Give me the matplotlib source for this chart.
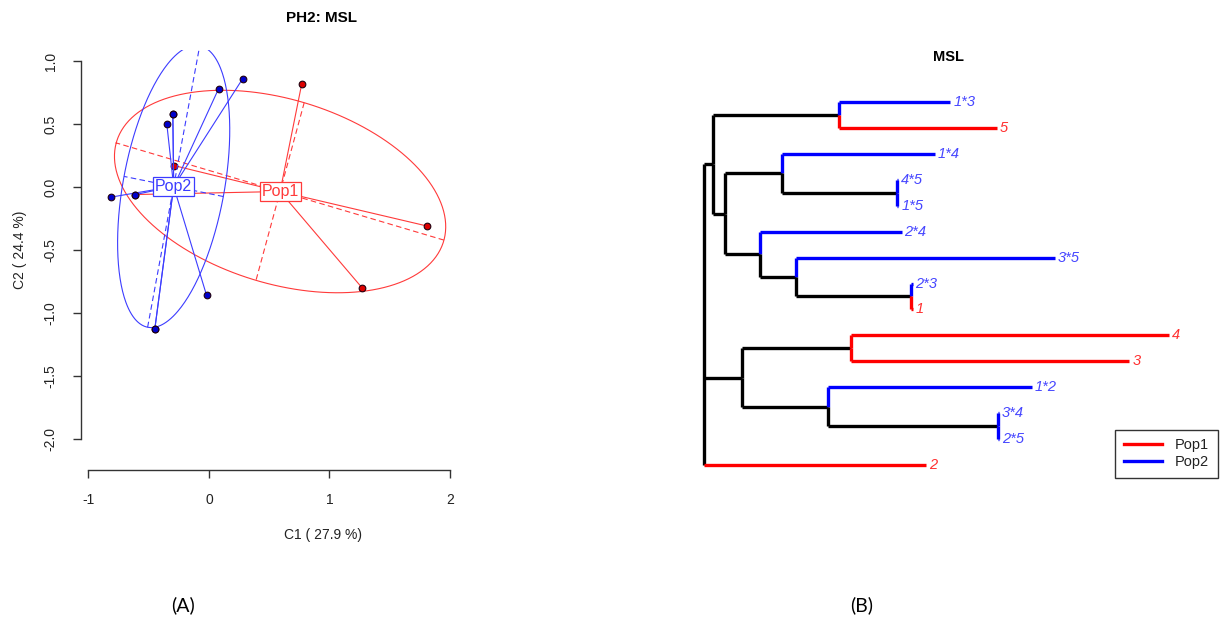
"""PCA class plot and NJ dendrogram for MSL (PH2)."""
import matplotlib
matplotlib.use("Agg")
import matplotlib.pyplot as plt
import numpy as np

plt.rcParams['font.family'] = ['Liberation Sans', 'DejaVu Sans']

# ---- scatter (panel A) data ----
pop1_x = [0.77, 1.81, 1.27, -0.29, -0.61]
pop1_y = [0.82, -0.31, -0.80, 0.17, -0.06]
pop2_x = [-0.81, -0.61, -0.35, -0.30, 0.08, 0.28, -0.02, -0.45, -0.45, -0.30]
pop2_y = [-0.08, -0.06, 0.50, 0.58, 0.78, 0.86, -0.86, -1.13, -1.13, 0.58]
pop_names = ["Pop1", "Pop2"]
x_ticks = [-1, 0, 1, 2]
y_ticks = [-2.0, -1.5, -1.0, -0.5, 0.0, 0.5, 1.0]

# ---- dendrogram (panel B) data ----
children = {
    "root": ["U", "L", "2"],
    "U": ["n1", "V"],
    "n1": ["1*3", "5"],
    "V": ["W", "X"],
    "W": ["1*4", "n2"],
    "n2": ["4*5", "1*5"],
    "X": ["2*4", "Y"],
    "Y": ["3*5", "n3"],
    "n3": ["2*3", "1"],
    "L": ["M", "N"],
    "M": ["4", "3"],
    "N": ["1*2", "n4"],
    "n4": ["3*4", "2*5"],
}
brlen = {
    "U": 0.020, "n1": 0.270, "1*3": 0.240, "5": 0.340,
    "V": 0.026, "W": 0.121, "1*4": 0.329, "n2": 0.248, "4*5": 0.003, "1*5": 0.003,
    "X": 0.074, "2*4": 0.305, "Y": 0.077, "3*5": 0.558, "n3": 0.249, "2*3": 0.003, "1": 0.003,
    "L": 0.082, "M": 0.234, "4": 0.684, "3": 0.599,
    "N": 0.184, "1*2": 0.440, "n4": 0.366, "3*4": 0.003, "2*5": 0.003,
    "2": 0.478,
}
tip_pop = {"1": 0, "2": 0, "3": 0, "4": 0, "5": 0,
           "1*2": 1, "1*3": 1, "1*4": 1, "1*5": 1, "2*3": 1,
           "2*4": 1, "2*5": 1, "3*4": 1, "3*5": 1, "4*5": 1}

edge_cols = ["#ff0000", "#0000ff"]
label_cols = ["#ff3030", "#4646ff"]
line_cols = ["#ff3a3a", "#3c3cff"]
face_cols = ["#dd0000", "#0000cc"]

fig = plt.figure(figsize=(12.24, 6.23), dpi=100)
W, H = 1224, 623


def px_axes(x0, y0, x1, y1):
    return fig.add_axes([x0 / W, 1 - y1 / H, (x1 - x0) / W, (y1 - y0) / H])


# ================= panel A =================
ax = px_axes(81, 50, 457, 470)
ax.set_xlim(-1.062, 2.058)
ax.set_ylim(-2.246, 1.087)


def class_star(ax, x, y, k, cell=1.5):
    x = np.asarray(x)
    y = np.asarray(y)
    mx, my = x.mean(), y.mean()
    cov = np.cov(np.vstack([x, y]), bias=True)
    vals, vecs = np.linalg.eigh(cov)
    order = vals.argsort()[::-1]
    vals, vecs = vals[order], vecs[:, order]
    a, b = cell * np.sqrt(vals)
    t = np.linspace(0, 2 * np.pi, 300)
    pts = vecs @ np.vstack([a * np.cos(t), b * np.sin(t)])
    c = line_cols[k]
    ax.plot(mx + pts[0], my + pts[1], color=c, lw=0.8)
    for j, h in enumerate([a, b]):
        v = vecs[:, j] * h
        ax.plot([mx - v[0], mx + v[0]], [my - v[1], my + v[1]], color=c, lw=0.8, ls=(0, (5, 3)))
    for xi, yi in zip(x, y):
        ax.plot([mx, xi], [my, yi], color=c, lw=0.8)
    ax.plot(x, y, "o", ms=4.8, mfc=face_cols[k], mec="#200010", mew=0.8)
    return mx, my


centres = [class_star(ax, pop1_x, pop1_y, 0), class_star(ax, pop2_x, pop2_y, 1)]
for k, (mx, my) in enumerate(centres):
    ax.text(mx, my, pop_names[k], color=line_cols[k], fontsize=11.5, ha="center", va="center",
            bbox=dict(boxstyle="square,pad=0.12", fc="white", ec=line_cols[k], lw=0.9), zorder=5)

for s in ["top", "right"]:
    ax.spines[s].set_visible(False)
ax.spines["left"].set_bounds(-2, 1)
ax.spines["bottom"].set_bounds(-1, 2)
for s in ["left", "bottom"]:
    ax.spines[s].set_color("#333333")
    ax.spines[s].set_linewidth(1.0)
ax.set_xticks(x_ticks)
ax.set_xticklabels([str(v) for v in x_ticks])
ax.set_yticks(y_ticks)
ax.set_yticklabels([f"{v:.1f}" for v in y_ticks], rotation=90, va="center")
ax.tick_params(direction="out", length=5.8, width=1.0, color="#333333", labelcolor="#222222",
               labelsize=10, pad=11)
ax.set_facecolor("none")

fig.text(322 / W, 1 - 18 / H, "PH2: MSL", ha="center", va="center", fontsize=11, fontweight="bold")
fig.text(323 / W, 1 - 535 / H, "C1 ( 27.9 %)", ha="center", va="center", fontsize=10, color="#222222")
fig.text(20 / W, 1 - 250 / H, "C2 ( 24.4 %)", ha="center", va="center", fontsize=10, color="#222222",
         rotation=90)

# ================= panel B =================
ax2 = px_axes(680, 80, 1220, 485)
ax2.set_xlim(-0.0516, 1.1097)
ax2.set_ylim(15.77, 0.152)
ax2.axis("off")

pos = {}
tip_counter = [0]


def layout(node, depth):
    if node not in children:
        tip_counter[0] += 1
        pos[node] = (depth, tip_counter[0])
        return tip_counter[0]
    ys = [layout(ch, depth + brlen[ch]) for ch in children[node]]
    y = (ys[0] + ys[-1]) / 2
    pos[node] = (depth, y)
    return y


layout("root", 0.0)


def edge_colour(node):
    return edge_cols[tip_pop[node]] if node in tip_pop else "black"


LW = 2.4
for node, kids in children.items():
    nx, ny = pos[node]
    if len(kids) > 2:
        ys = [pos[ch][1] for ch in kids]
        ax2.plot([nx, nx], [min(ys), max(ys)], color="black", lw=LW, solid_capstyle="butt")
    else:
        for ch in kids:
            ax2.plot([nx, nx], [ny, pos[ch][1]], color=edge_colour(ch), lw=LW, solid_capstyle="butt")
    for ch in kids:
        cx, cy = pos[ch]
        ax2.plot([nx, cx], [cy, cy], color=edge_colour(ch), lw=LW, solid_capstyle="butt")

for tip, k in tip_pop.items():
    tx, ty = pos[tip]
    ax2.text(tx + 0.006, ty, tip, color=label_cols[k], fontsize=10.5, style="italic",
             ha="left", va="center")

fig.text(948 / W, 1 - 57 / H, "MSL", ha="center", va="center", fontsize=10.5, fontweight="bold")

handles = [plt.Line2D([], [], color=edge_cols[k], lw=2.4) for k in range(2)]
leg = fig.legend(handles, pop_names, loc="lower right", bbox_to_anchor=(1218 / W, 1 - 478 / H),
                 bbox_transform=fig.transFigure, fancybox=False, edgecolor="black", fontsize=10.5,
                 handlelength=2.6, borderpad=0.6, labelspacing=0.2, handletextpad=0.9,
                 borderaxespad=0)
leg.get_frame().set_linewidth(1.0)
for t in leg.get_texts():
    t.set_color("#222222")

fig.text(183 / W, 1 - 605 / H, "(A)", ha="center", va="center", fontsize=14, family=["Lato", "DejaVu Sans"])
fig.text(862 / W, 1 - 605 / H, "(B)", ha="center", va="center", fontsize=14, family=["Lato", "DejaVu Sans"])

fig.savefig("out.png", dpi=100)
